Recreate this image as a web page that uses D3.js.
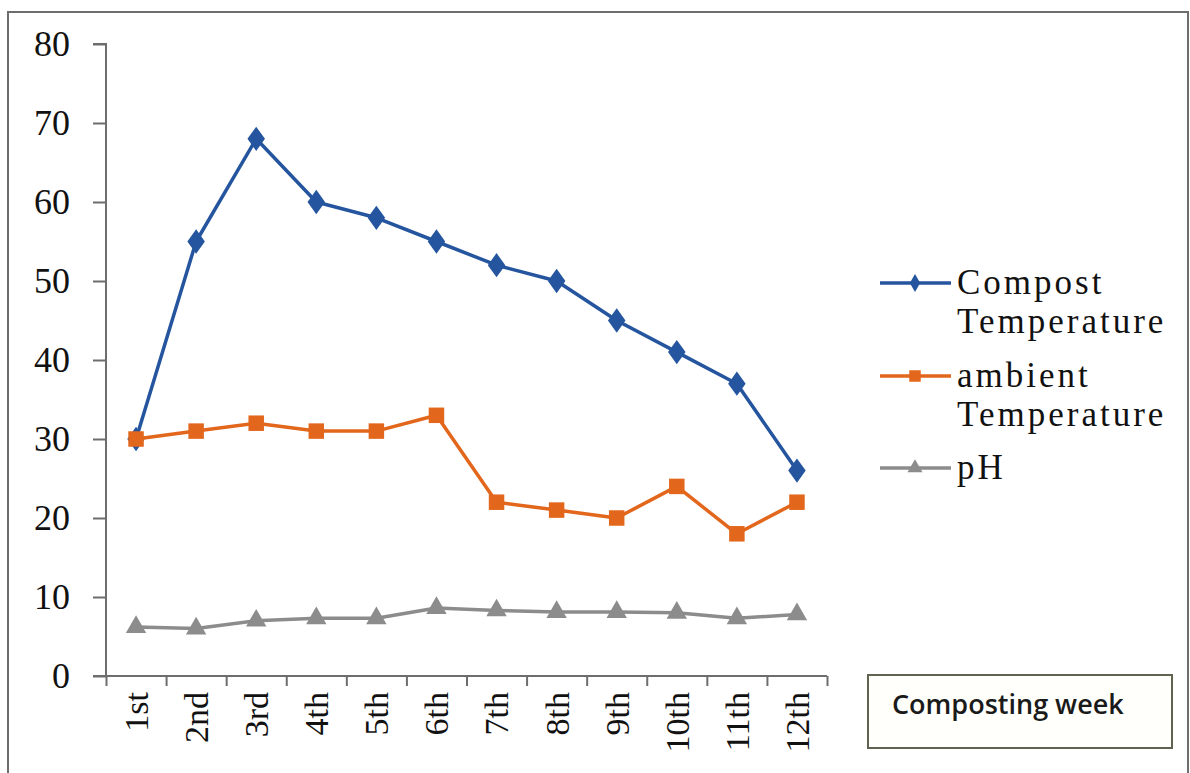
<!DOCTYPE html>
<html>
<head>
<meta charset="utf-8">
<script src="https://cdn.jsdelivr.net/npm/d3@7"></script>
<style>
  body { margin: 0; background: #fff; }
  svg { display: block; }
</style>
</head>
<body>
<div></div>
<script>
//data
var weeks = ["1st", "2nd", "3rd", "4th", "5th", "6th", "7th", "8th", "9th", "10th", "11th", "12th"];
var compostTemp = [30, 55, 68, 60, 58, 55, 52, 50, 45, 41, 37, 26];
var ambientTemp = [30, 31, 32, 31, 31, 33, 22, 21, 20, 24, 18, 22];
var phValues = [6.2, 6.0, 7.0, 7.3, 7.3, 8.6, 8.3, 8.1, 8.1, 8.0, 7.3, 7.8];
var yTicks = [0, 10, 20, 30, 40, 50, 60, 70, 80];
var seriesNames = [["Compost", "Temperature"], ["ambient", "Temperature"], ["pH"]];
var xTitle = "Composting week";

var width = 1190;
var height = 773;

//plot area
var margin = {top: 44, left: 106, right: 827, bottom: 676};

var svg = d3.select("div")
            .append("svg")
            .attr("width", width)
            .attr("height", height);

//outer frame
svg.append("rect")
   .attr("x", 8)
   .attr("y", 12)
   .attr("width", 1180)
   .attr("height", 780)
   .attr("fill", "#fff")
   .attr("stroke", "#6d6d6d")
   .attr("stroke-width", 2);

//scales
var xScale = d3.scaleBand()
               .domain(weeks)
               .range([margin.left, margin.right])
               .padding(0);
var xEdge = d3.scaleLinear()
              .domain([0, weeks.length])
              .range([margin.left, margin.right]);
var yScale = d3.scaleLinear()
               .domain([0, 80])
               .range([margin.bottom, margin.top]);

function cx(d, i) { return xScale(weeks[i]) + xScale.bandwidth() / 2; }

//y axis
var yAxis = svg.append("g")
   .attr("transform", "translate(" + margin.left + ",0)")
   .call(d3.axisLeft(yScale).tickValues(yTicks).tickSize(13).tickPadding(23));
yAxis.select(".domain").attr("stroke", "#6d6d6d").attr("stroke-width", 2)
     .attr("d", "M-13," + yScale(80) + "H0V" + yScale(0));
yAxis.selectAll(".tick line").attr("stroke", "#6d6d6d").attr("stroke-width", 2);
yAxis.selectAll(".tick text")
     .style("font-family", "'Liberation Serif', serif")
     .style("font-size", "36px")
     .attr("fill", "#111");

//x axis with ticks on the category edges
var xAxis = svg.append("g")
   .attr("transform", "translate(0," + margin.bottom + ")")
   .call(d3.axisBottom(xEdge).ticks(weeks.length).tickSize(10).tickFormat(""));
xAxis.select(".domain").attr("stroke", "#6d6d6d").attr("stroke-width", 2)
     .attr("d", "M" + (margin.left - 13) + ",0H" + margin.right);
xAxis.selectAll(".tick line").attr("stroke", "#6d6d6d").attr("stroke-width", 2);

//rotated week labels
svg.append("g")
   .selectAll("text")
   .data(weeks)
   .enter()
   .append("text")
   .text(function(d) { return d; })
   .attr("transform", function(d) {
     return "translate(" + (xScale(d) + xScale.bandwidth() / 2) + "," + (margin.bottom + 16) + ") rotate(-90)";
   })
   .attr("dy", "0.35em")
   .attr("text-anchor", "end")
   .style("font-family", "'Liberation Serif', serif")
   .style("font-size", "34px")
   .attr("fill", "#111");

//lines
var series = [
  {values: compostTemp, color: "#24559e", shape: d3.symbolDiamond, size: 170},
  {values: ambientTemp, color: "#e2661b", shape: d3.symbolSquare, size: 240},
  {values: phValues, color: "#8c8c8c", shape: d3.symbolTriangle, size: 180}
];

var lineGen = d3.line()
                .x(cx)
                .y(function(d) { return yScale(d); });

series.forEach(function(s) {
  svg.append("path")
     .attr("d", lineGen(s.values))
     .attr("fill", "none")
     .attr("stroke", s.color)
     .attr("stroke-width", 3.5)
     .attr("stroke-linejoin", "round");
  svg.append("g")
     .selectAll("path")
     .data(s.values)
     .enter()
     .append("path")
     .attr("d", d3.symbol().type(s.shape).size(s.size))
     .attr("transform", function(d, i) {
       var sc = s.shape === d3.symbolDiamond ? " scale(1.25,1)" : "";
       return "translate(" + cx(d, i) + "," + yScale(d) + ")" + sc;
     })
     .attr("fill", s.color);
});

//legend
var legendY = [283, 376, 468];
var legend = svg.append("g");
series.forEach(function(s, k) {
  var g = legend.append("g").attr("transform", "translate(0," + legendY[k] + ")");
  g.append("line")
   .attr("x1", 880).attr("x2", 951)
   .attr("stroke", s.color)
   .attr("stroke-width", 3.5);
  g.append("path")
   .attr("d", d3.symbol().type(s.shape).size(s.size * 0.55))
   .attr("transform", "translate(915,0)")
   .attr("fill", s.color);
  var t = g.append("text")
   .attr("x", 957)
   .attr("y", 11)
   .style("font-family", "'Liberation Serif', serif")
   .style("font-size", "35px")
   .style("letter-spacing", "3px")
   .attr("fill", "#111");
  seriesNames[k].forEach(function(line, j) {
    t.append("tspan").attr("x", 957).attr("dy", j === 0 ? 0 : 39).text(line);
  });
});

//axis title box
svg.append("rect")
   .attr("x", 868)
   .attr("y", 675)
   .attr("width", 304)
   .attr("height", 73)
   .attr("fill", "#fffffb")
   .attr("stroke", "#5e6450")
   .attr("stroke-width", 2);
svg.append("text")
   .text(xTitle)
   .attr("x", 892)
   .attr("y", 714)
   .style("font-family", "'Open Sans', sans-serif")
   .style("font-size", "27px")
   .style("font-weight", "600")
   .attr("fill", "#1a1a1a");
</script>
</body>
</html>
